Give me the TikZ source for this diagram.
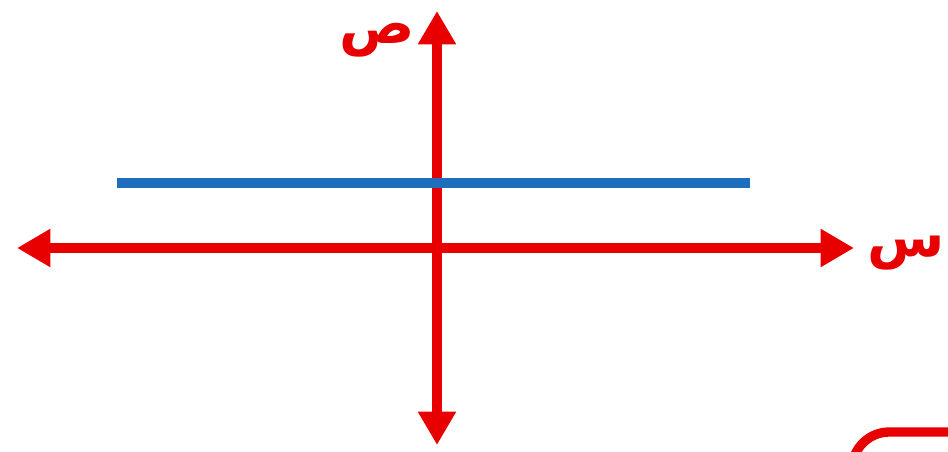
\documentclass[tikz,border=0pt]{standalone}
\usepackage{fontspec}
\usepackage{tikz}
\usetikzlibrary{arrows.meta}
\TeXXeTstate=1
\newfontfamily\arabicfont[Script=Arabic]{DejaVu Sans}
\definecolor{axisred}{RGB}{232,0,0}
\definecolor{lineblue}{RGB}{30,110,190}

\begin{document}
\begin{tikzpicture}[x=0.75pt, y=-0.75pt,
    axis/.style={line width=7.5pt, axisred, {Triangle[length=25pt,width=27pt]}-{Triangle[length=25pt,width=27pt]}},
    graph/.style={line width=7pt, lineblue},
    lbl/.style={text=axisred, font=\arabicfont\bfseries\fontsize{42}{46}\selectfont, inner sep=0pt}
]
\useasboundingbox (0,0) rectangle (948,452);
% axes
\coordinate (xl) at (17,248);
\coordinate (xr) at (854,248);
\coordinate (yt) at (437,11);
\coordinate (yb) at (437,445);
\draw[axis] (xl) -- (xr);
\draw[axis] (yb) -- (yt);
% horizontal line y = c
\coordinate (bl) at (117,183);
\coordinate (br) at (750,183);
\draw[graph] (bl) -- (br);
% labels
\node[lbl] (ylab) at (377,40) {\beginR ص\endR};
\node[lbl] (xlab) at (906,253) {\beginR س\endR};
% box corner
\draw[line width=7pt, axisred, rounded corners=28pt] (852,520) |- (1000,432);
\end{tikzpicture}
\end{document}
